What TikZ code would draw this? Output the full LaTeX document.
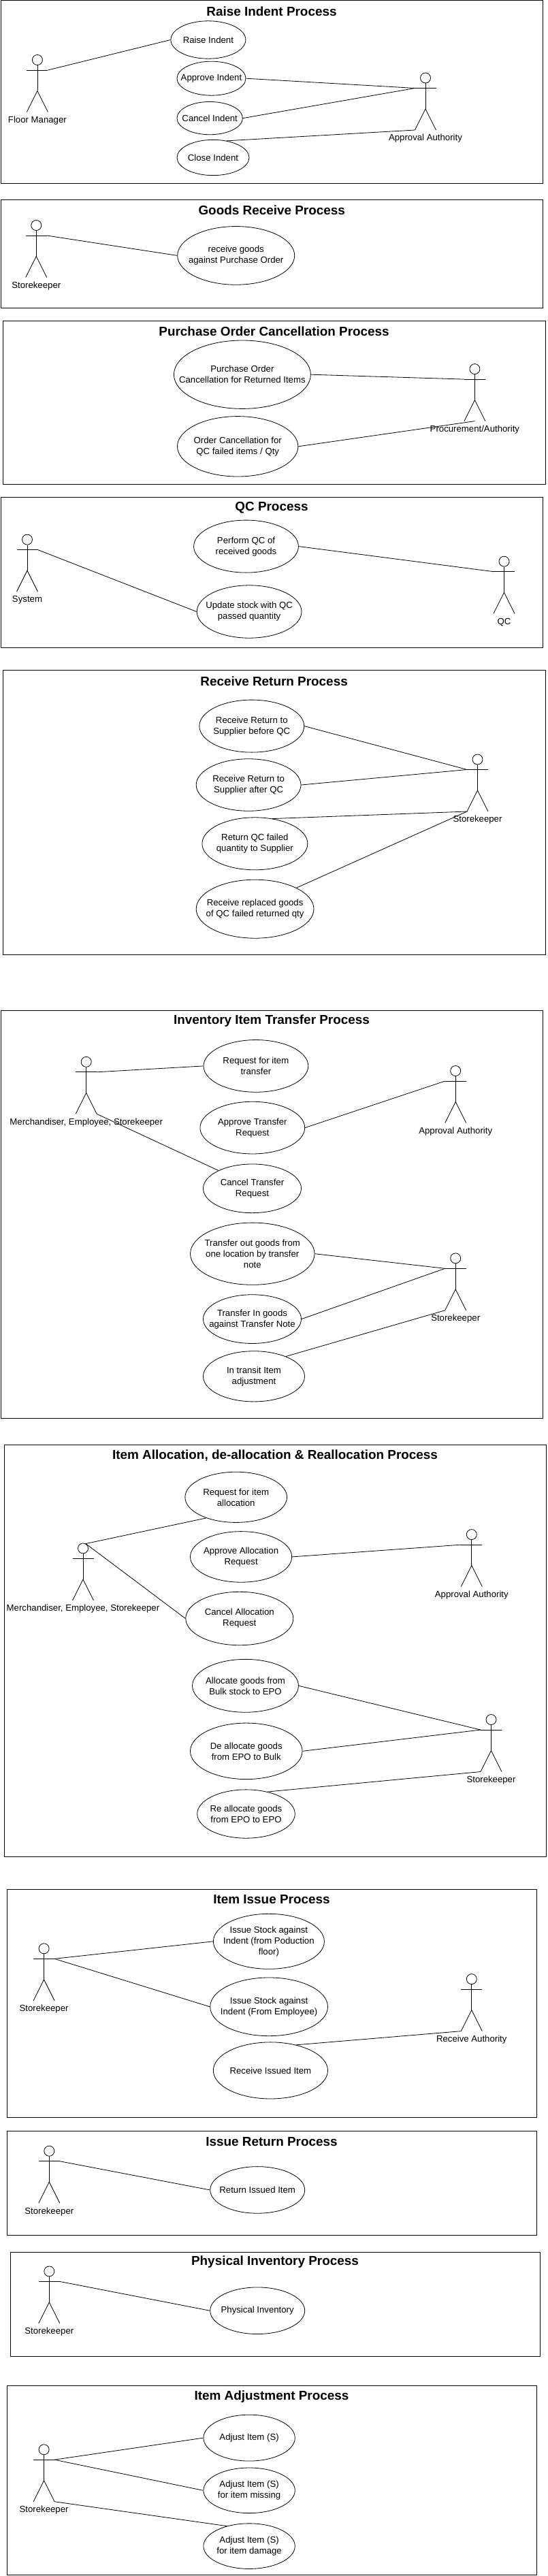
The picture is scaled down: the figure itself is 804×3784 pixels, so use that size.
\documentclass[tikz,border=0pt]{standalone}
\usepackage{fontspec}
\usepackage{tikz}
\usetikzlibrary{shapes.geometric}
\setmainfont{Liberation Sans}

\newcommand{\drawactor}[4]{
    \node[actorhead] (#1head) at (#2,#3-15) {};
    \coordinate (#1lh) at (#2-15.5,#3);
    \coordinate (#1rh) at (#2+15.5,#3);
    \coordinate (#1hip) at (#2,#3+30.5);
    \coordinate (#1lf) at (#2-15.5,#3+61.5);
    \coordinate (#1rf) at (#2+15.5,#3+61.5);
    \coordinate (#1base) at (#2,#3+61.5);
    \draw (#1lh) -- (#1rh);
    \draw (#1head.south) -- (#1hip);
    \draw (#1lf) -- (#1hip) -- (#1rf);
    \node[actorname] (#1name) at (#2,#3+74) {#4};
}

\begin{document}
\begin{tikzpicture}[
    x=1pt, y=-1pt, line width=0.8pt,
    font={\fontsize{13.2}{16}\selectfont},
    title/.style={font={\fontsize{18.9}{22}\selectfont\bfseries}},
    actorhead/.style={draw,circle,minimum size=15pt,inner sep=0pt},
    actorname/.style={inner sep=0pt},
    usecase/.style 2 args={draw,ellipse,minimum width=#1pt,minimum height=#2pt,inner xsep=-60pt,inner ysep=-20pt,align=center},
]
    \useasboundingbox (0,0) rectangle (804,3784);

    \draw (1.5,0.5) rectangle (797.5,269.5);
    \node[title] (raisetitle) at (399,16.5) {Raise Indent Process};
    \drawactor{floor}{54.9}{103}{Floor Manager}
    \drawactor{approval}{625}{129.5}{Approval Authority}
    \node[usecase={110}{55.4}] (raise) at (305.9,58.5) {Raise Indent};
    \node[usecase={101}{50}] (approve) at (310.5,115.2) {Approve Indent};
    \node[usecase={96.4}{48.3}] (cancel) at (308.2,173.6) {Cancel Indent};
    \node[usecase={106}{52.3}] (close) at (313,231.5) {Close Indent};
    \draw (floorrh) -- (raise.west);
    \draw (approve.east) -- (approvallh);
    \draw (cancel.east) -- (approvallh);
    \draw (close.51) -- (approvallf);

    \draw (1.5,293.3) rectangle (797.5,452.2);
    \node[title] (goodstitle) at (399.2,308.9) {Goods Receive Process};
    \drawactor{goodskeeper}{53.3}{346}{Storekeeper}
    \node[usecase={172}{85.7}] (goods) at (346.7,375.4) {receive goods\\against Purchase Order};
    \draw (goodskeeperrh) -- (goods.west);

    \draw (4.6,471.4) rectangle (801.5,711.5);
    \node[title] (cancetitle) at (402.6,486.6) {Purchase Order Cancellation Process};
    \drawactor{procure}{697.4}{557.1}{Procurement/Authority}
    \node[usecase={201}{100.4}] (returned) at (355.9,550.2) {Purchase Order\\Cancellation for Returned Items};
    \node[usecase={177.4}{88.4}] (qcfailed) at (349.2,655.8) {Order Cancellation for\\QC failed items / Qty};
    \draw (returned.east) -- (procurelh);
    \draw (qcfailed.east) -- (procurebase);

    \draw (1.5,730.6) rectangle (797.5,951.6);
    \node[title] (qctitle) at (399,745.9) {QC Process};
    \drawactor{system}{40}{807.6}{System}
    \drawactor{qc}{740.5}{839.7}{QC}
    \node[usecase={153.8}{77}] (perform) at (361.5,802.6) {Perform QC of\\received goods};
    \node[usecase={153.8}{77.4}] (update) at (366.1,898.5) {Update stock with QC\\passed quantity};
    \draw (systemrh) -- (update.west);
    \draw (perform.east) -- (qclh);

    \draw (4.6,984.6) rectangle (801.5,1402.6);
    \node[title] (returntitle) at (402.6,1000.4) {Receive Return Process};
    \drawactor{returnkeeper}{701.5}{1130.5}{Storekeeper}
    \node[usecase={153.9}{77}] (before) at (369.8,1066.6) {Receive Return to\\Supplier before QC};
    \node[usecase={153.8}{76.5}] (after) at (365.1,1153) {Receive Return to\\Supplier after QC};
    \node[usecase={155}{77}] (failed) at (374.4,1239.3) {Return QC failed\\quantity to Supplier};
    \node[usecase={172.8}{86}] (replaced) at (374.6,1335.2) {Receive replaced goods\\of QC failed returned qty};
    \draw (before.east) -- (returnkeeperlh);
    \draw (after.east) -- (returnkeeperlh);
    \draw (failed.55) -- (returnkeeperlf);
    \draw (replaced.27) -- (returnkeeperlf);

    \draw (1.5,1484.4) rectangle (797.5,2083);
    \node[title] (transfertitle) at (399,1499.7) {Inventory Item Transfer Process};
    \drawactor{merch}{126.7}{1574.8}{Merchandiser, Employee, Storekeeper}
    \drawactor{transferauth}{669.2}{1588}{Approval Authority}
    \drawactor{transferkeeper}{669.2}{1863.3}{Storekeeper}
    \node[usecase={153.8}{76.7}] (reqtransfer) at (375.9,1565.9) {Request for item\\transfer};
    \node[usecase={153.8}{76.7}] (apptransfer) at (370.8,1656.6) {Approve Transfer\\Request};
    \node[usecase={144}{71.7}] (cantransfer) at (370.5,1745.8) {Cancel Transfer\\Request};
    \node[usecase={182.5}{91.2}] (outgoods) at (370.8,1841.7) {Transfer out goods from\\one location by transfer\\note};
    \node[usecase={144}{71.7}] (ingoods) at (370.5,1937.6) {Transfer In goods\\against Transfer Note};
    \node[usecase={149}{74.2}] (transit) at (373,2021.8) {In transit Item\\adjustment};
    \draw (merchrh) -- (reqtransfer.west);
    \draw (apptransfer.east) -- (transferauthlh);
    \draw (merchrf) -- (cantransfer.152);
    \draw (outgoods.east) -- (transferkeeperlh);
    \draw (ingoods.east) -- (transferkeeperlh);
    \draw (transit.32) -- (transferkeeperlf);

    \draw (6.7,2122.4) rectangle (802.5,2727.1);
    \node[title] (allocatetitle) at (404,2138) {Item Allocation, de-allocation \& Reallocation Process};
    \drawactor{alloc}{122}{2289.4}{Merchandiser, Employee, Storekeeper}
    \drawactor{allocauth}{692.8}{2269.1}{Approval Authority}
    \drawactor{allockeeper}{721.5}{2541}{Storekeeper}
    \node[usecase={149.7}{74.2}] (reqalloc) at (346.7,2199.3) {Request for item\\allocation};
    \node[usecase={149.2}{74.6}] (appalloc) at (354.1,2286.9) {Approve Allocation\\Request};
    \node[usecase={158}{78.4}] (canalloc) at (351.8,2377.5) {Cancel Allocation\\Request};
    \node[usecase={155.9}{77.9}] (bulkepo) at (360.5,2476.3) {Allocate goods from\\Bulk stock to EPO};
    \node[usecase={164.6}{82.5}] (epobulk) at (361.8,2572.3) {De allocate goods\\from EPO to Bulk};
    \node[usecase={143.6}{71.3}] (epoepo) at (361.5,2664.5) {Re allocate goods\\from EPO to EPO};
    \draw (allochead.60) -- (reqalloc.215);
    \draw (allochead.60) -- (canalloc.west);
    \draw (appalloc.east) -- (allocauthlh);
    \draw (bulkepo.east) -- (allockeeperlh);
    \draw (epobulk.east) -- (allockeeperlh);
    \draw (epoepo.46) -- (allockeeperlf);

    \draw (10.8,2775.7) rectangle (788.7,3110.7);
    \node[title] (issuetitle) at (399,2790.2) {Item Issue Process};
    \drawactor{issuekeeper}{64.6}{2877.3}{Storekeeper}
    \drawactor{receiveauth}{692.8}{2922.1}{Receive Authority}
    \node[usecase={163}{81}] (issuefloor) at (394.9,2851.8) {Issue Stock against\\Indent (from Poduction\\floor)};
    \node[usecase={172.8}{85.7}] (issueemp) at (395.1,2947.8) {Issue Stock against\\Indent (From Employee)};
    \node[usecase={168.2}{83.1}] (received) at (397.4,3041.4) {Receive Issued Item};
    \draw (issuekeeperrh) -- (issuefloor.west);
    \draw (issuekeeperrh) -- (issueemp.west);
    \draw (received.45) -- (receiveauthlf);

    \draw (10.8,3130.5) rectangle (788.7,3283.4);
    \node[title] (issuereturntitle) at (399,3145.6) {Issue Return Process};
    \drawactor{backkeeper}{72.3}{3174.7}{Storekeeper}
    \node[usecase={139}{68.6}] (issued) at (378.2,3216.9) {Return Issued Item};
    \draw (backkeeperrh) -- (issued.west);

    \draw (15.4,3307.9) rectangle (793.8,3461.5);
    \node[title] (physicaltitle) at (404,3323) {Physical Inventory Process};
    \drawactor{countkeeper}{72.3}{3351.4}{Storekeeper}
    \node[usecase={139}{68.6}] (physical) at (378.2,3394.2) {Physical Inventory};
    \draw (countkeeperrh) -- (physical.west);

    \draw (10.8,3504.4) rectangle (788.7,3782.6);
    \node[title] (adjusttitle) at (399,3520.2) {Item Adjustment Process};
    \drawactor{adjustkeeper}{64.6}{3613.2}{Storekeeper}
    \node[usecase={134.4}{67.9}] (adjust) at (366.1,3581.1) {Adjust Item (S)};
    \node[usecase={134.4}{66.6}] (missing) at (366.1,3658.3) {Adjust Item (S)\\for item missing};
    \node[usecase={134.4}{66.6}] (damage) at (366.1,3740.1) {Adjust Item (S)\\for item damage};
    \draw (adjustkeeperrh) -- (adjust.west);
    \draw (adjustkeeperrh) -- (missing.west);
    \draw (adjustkeeperrf) -- (damage.138);

\end{tikzpicture}
\end{document}
